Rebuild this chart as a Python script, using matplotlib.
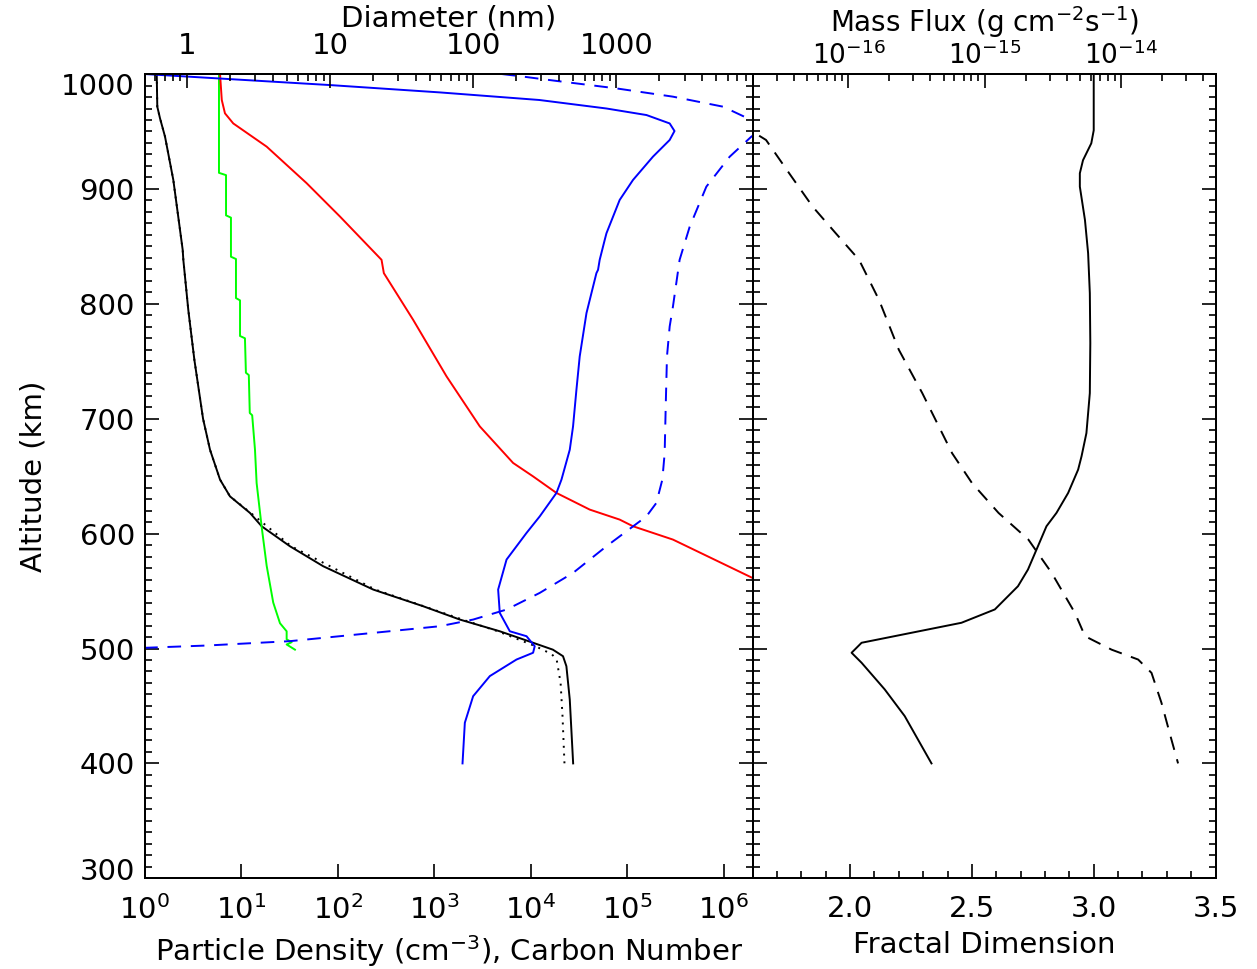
import numpy as np
import matplotlib
matplotlib.use("Agg")
import matplotlib.pyplot as plt
import matplotlib.transforms as mtransforms
from matplotlib.ticker import (MultipleLocator, LogLocator, NullLocator, FixedLocator,
                               FuncFormatter, NullFormatter, LogFormatterSciNotation)

# ---- data (log10 where noted) ----
# black solid: particle density, log10(cm^-3)
dens_alt = [1000, 971.6, 961.5, 945.5, 907.8, 847, 838, 794.8, 751.3, 700, 673, 647,
            632.4, 618, 606.4, 589, 571.6, 551.3, 536.8, 525.2, 515, 505, 499, 493.3,
            484.6, 455.6, 400]
dens_log = [0.126, 0.132, 0.16, 0.212, 0.298, 0.395, 0.402, 0.453, 0.516, 0.606, 0.678,
            0.782, 0.885, 1.092, 1.213, 1.506, 1.851, 2.369, 2.886, 3.266, 3.68, 4.025,
            4.23, 4.335, 4.37, 4.405, 4.44]

# black dotted
dot_alt = [1000, 971.6, 961.5, 945.5, 907.8, 847, 838, 794.8, 751.3, 700, 673, 647,
           632.4, 618, 589, 551.3, 525, 515, 502, 495, 490, 470, 441, 400]
dot_log = [0.126, 0.132, 0.16, 0.212, 0.298, 0.395, 0.402, 0.453, 0.516, 0.606, 0.678,
           0.782, 0.885, 1.10, 1.52, 2.39, 3.30, 3.66, 4.05, 4.22, 4.27, 4.31, 4.33, 4.35]

# green
green_alt = [1000, 914, 912, 877, 875, 841, 839, 805, 803, 772, 770, 740, 738, 705, 703,
             673, 644, 606, 572, 540, 522, 515, 508, 505.5, 503.5, 499]
green_log = [0.771, 0.771, 0.844, 0.844, 0.895, 0.895, 0.947, 0.947, 0.989, 0.989, 1.04,
             1.05, 1.08, 1.09, 1.115, 1.144, 1.161, 1.213, 1.265, 1.333, 1.403, 1.472,
             1.472, 1.524, 1.472, 1.558]

# red
red_alt = [1000, 977.4, 965.8, 957, 936.8, 905, 876, 838.3, 826.7, 786, 736.9, 693.3,
           661.5, 649.8, 635.4, 620.9, 612.2, 606.4, 594.8, 561.5, 540]
red_log = [0.782, 0.80, 0.833, 0.919, 1.265, 1.679, 2.024, 2.455, 2.479, 2.783, 3.128,
           3.473, 3.818, 4.025, 4.267, 4.612, 4.922, 5.06, 5.474, 6.296, 6.80]

# blue solid
blue_alt = [1000, 990.4, 984, 977.4, 970, 964.3, 957, 950.4, 942.6, 928.1, 907.8, 890.4,
            861.4, 855.6, 838.3, 829.6, 826.7, 791.9, 754.2, 725.2, 693.3, 673, 647,
            635.4, 615, 600.6, 577.4, 551.3, 531, 515, 510.7, 502, 496.3, 490.4, 476,
            458.5, 435.4, 400]
blue_log = [0.0, 1.92, 3.06, 4.09, 4.785, 5.2, 5.44, 5.49, 5.44, 5.267, 5.06, 4.922,
            4.785, 4.767, 4.715, 4.698, 4.681, 4.578, 4.508, 4.474, 4.439, 4.405, 4.319,
            4.267, 4.094, 3.957, 3.75, 3.663, 3.68, 3.784, 3.957, 4.042, 4.025, 3.853,
            3.577, 3.404, 3.318, 3.294]

# blue dashed
bdash_alt = [1000, 998.5, 994, 987.5, 980.3, 971.6, 960, 953, 945.5, 928, 902, 867,
             852.7, 838.3, 797.7, 780.3, 754.2, 710.8, 670, 647, 626.7, 615, 589, 565.8,
             548.4, 533.9, 525.2, 519.4, 513.6, 506.4, 502.6, 500.6]
bdash_log = [3.70, 3.853, 4.267, 4.888, 5.474, 5.992, 6.286, 6.42, 6.286, 6.061, 5.82,
             5.647, 5.595, 5.543, 5.474, 5.44, 5.412, 5.399, 5.388, 5.364, 5.302, 5.199,
             4.785, 4.439, 4.094, 3.75, 3.404, 3.059, 2.369, 1.506, 0.644, 0.0]

# right panel: fractal dimension (solid)
frac_alt = [1000, 951, 939.7, 925, 913.6, 902, 873, 844, 809.3, 765.8, 722.3, 687.5,
            667.3, 655.7, 635.4, 618, 606.4, 589, 568.7, 554.2, 534, 522.4, 513.7, 505,
            496.3, 487.6, 464.4, 441.2, 400]
frac_dim = [3.0, 3.0, 2.99, 2.956, 2.943, 2.943, 2.964, 2.977, 2.984, 2.986, 2.984,
            2.97, 2.95, 2.936, 2.895, 2.847, 2.806, 2.771, 2.73, 2.689, 2.594, 2.457,
            2.252, 2.047, 2.006, 2.047, 2.142, 2.224, 2.334]

# right panel: mass flux (dashed), log10(g cm^-2 s^-1)
flux_alt = [960, 949.8, 942.6, 913.6, 884.6, 861.4, 838.3, 803.5, 760, 722.3, 670, 644,
            618, 594.8, 565.8, 530.9, 510.7, 499, 490.4, 478.8, 452.8, 420.9, 400]
flux_log = [-16.78, -16.703, -16.605, -16.435, -16.263, -16.093, -15.922, -15.776,
            -15.63, -15.458, -15.239, -15.093, -14.898, -14.679, -14.508, -14.337,
            -14.263, -14.068, -13.873, -13.775, -13.702, -13.629, -13.58]

alt_ticks = list(range(300, 1001, 100))
dens_ticks = [1e0, 1e1, 1e2, 1e3, 1e4, 1e5, 1e6]
diam_ticks = [1, 10, 100, 1000]
flux_ticks = [1e-16, 1e-15, 1e-14]

plt.rcParams['font.family'] = ['DejaVu Sans']
plt.rcParams['mathtext.default'] = 'regular'
FS = 21

fig = plt.figure(figsize=(12.57, 9.69), dpi=100)
ax = fig.add_axes([0.115, 0.0936, 0.4838, 0.83])
ax2 = fig.add_axes([0.5988, 0.0936, 0.3682, 0.83])

lw = 1.4
ax.plot(10**np.array(dens_log), dens_alt, color='black', lw=lw)
ax.plot(10**np.array(dot_log), dot_alt, color='black', lw=lw, linestyle=(0, (1, 3)))
ax.plot(10**np.array(green_log), green_alt, color='#00ff00', lw=lw)
ax.plot(10**np.array(red_log), red_alt, color='#ff0000', lw=lw)
ax.plot(10**np.array(blue_log), blue_alt, color='#0000ff', lw=lw)
ax.plot(10**np.array(bdash_log), bdash_alt, color='#0000ff', lw=lw, linestyle=(0, (7, 5)))

ax.set_xscale('log')
ax.set_xlim(1, 10**6.3)
ax.set_ylim(300, 1000)
ax.xaxis.set_major_locator(FixedLocator(dens_ticks))
ax.xaxis.set_major_formatter(LogFormatterSciNotation())
ax.xaxis.set_minor_locator(NullLocator())
ax.set_yticks(alt_ticks)
ax.yaxis.set_minor_locator(MultipleLocator(10))
ax.tick_params(which='both', direction='in', left=True, right=True, labelsize=FS, width=1.2)
ax.tick_params(which='major', length=10)
ax.tick_params(axis='x', which='major', pad=12)
ax.tick_params(axis='y', which='major', pad=7)
ax.tick_params(which='minor', length=5)
ax.set_xlabel('Particle Density (cm$^{-3}$), Carbon Number', fontsize=FS, labelpad=6)
ax.set_ylabel('Altitude (km)', fontsize=FS, labelpad=10)

# IDL puts the end labels a bit inside the axis range
ylabs = ax.get_yticklabels()
ylabs[-1].set_transform(ylabs[-1].get_transform() +
                        mtransforms.ScaledTranslation(0, -0.10, fig.dpi_scale_trans))
ylabs[0].set_transform(ylabs[0].get_transform() +
                       mtransforms.ScaledTranslation(0, 0.09, fig.dpi_scale_trans))

axt = ax.twiny()
axt.set_xscale('log')
axt.set_xlim(0.505, 8980)
axt.xaxis.set_major_locator(FixedLocator(diam_ticks))
axt.xaxis.set_minor_locator(LogLocator(base=10, subs=np.arange(2, 10), numticks=20))
axt.xaxis.set_major_formatter(FuncFormatter(lambda v, p: '%g' % v))
axt.xaxis.set_minor_formatter(NullFormatter())
axt.tick_params(which='both', direction='in', labelsize=FS, width=1.2)
axt.tick_params(which='major', length=10, pad=10)
axt.tick_params(which='minor', length=5)
axt.set_xlabel('Diameter (nm)', fontsize=FS, labelpad=4)

ax2.plot(frac_dim, frac_alt, color='black', lw=lw)
ax2.set_xlim(1.6, 3.5)
ax2.set_ylim(300, 1000)
ax2.xaxis.set_major_locator(MultipleLocator(0.5))
ax2.xaxis.set_minor_locator(MultipleLocator(0.1))
ax2.xaxis.set_major_formatter(FuncFormatter(lambda v, p: '%.1f' % v))
ax2.set_yticks(alt_ticks)
ax2.yaxis.set_minor_locator(MultipleLocator(10))
ax2.tick_params(which='both', direction='in', left=True, right=True, labelleft=False,
                labelsize=FS, width=1.2)
ax2.tick_params(which='major', length=10)
ax2.tick_params(axis='x', which='major', pad=12)
ax2.tick_params(which='minor', length=5)
ax2.set_xlabel('Fractal Dimension', fontsize=FS, labelpad=6)

ax2t = ax2.twiny()
ax2t.plot(10**np.array(flux_log), flux_alt, color='black', lw=lw, linestyle=(0, (7, 5)))
ax2t.set_xscale('log')
ax2t.set_xlim(10**-16.703, 10**-13.305)
ax2t.set_ylim(300, 1000)
ax2t.xaxis.set_major_locator(FixedLocator(flux_ticks))
ax2t.xaxis.set_major_formatter(LogFormatterSciNotation())
ax2t.xaxis.set_minor_locator(LogLocator(base=10, subs=np.arange(2, 10), numticks=20))
ax2t.xaxis.set_minor_formatter(NullFormatter())
ax2t.tick_params(which='both', direction='in', width=1.2)
ax2t.tick_params(which='major', length=10, pad=3, labelsize=FS - 2)
ax2t.tick_params(which='minor', length=5)
ax2t.set_xlabel('Mass Flux (g cm$^{-2}$s$^{-1}$)', fontsize=FS - 1)
ax2t.xaxis.set_label_coords(0.5, 1.052)

for a in (ax, axt, ax2, ax2t):
    for s in a.spines.values():
        s.set_linewidth(1.4)

fig.savefig('out.png', dpi=100)
